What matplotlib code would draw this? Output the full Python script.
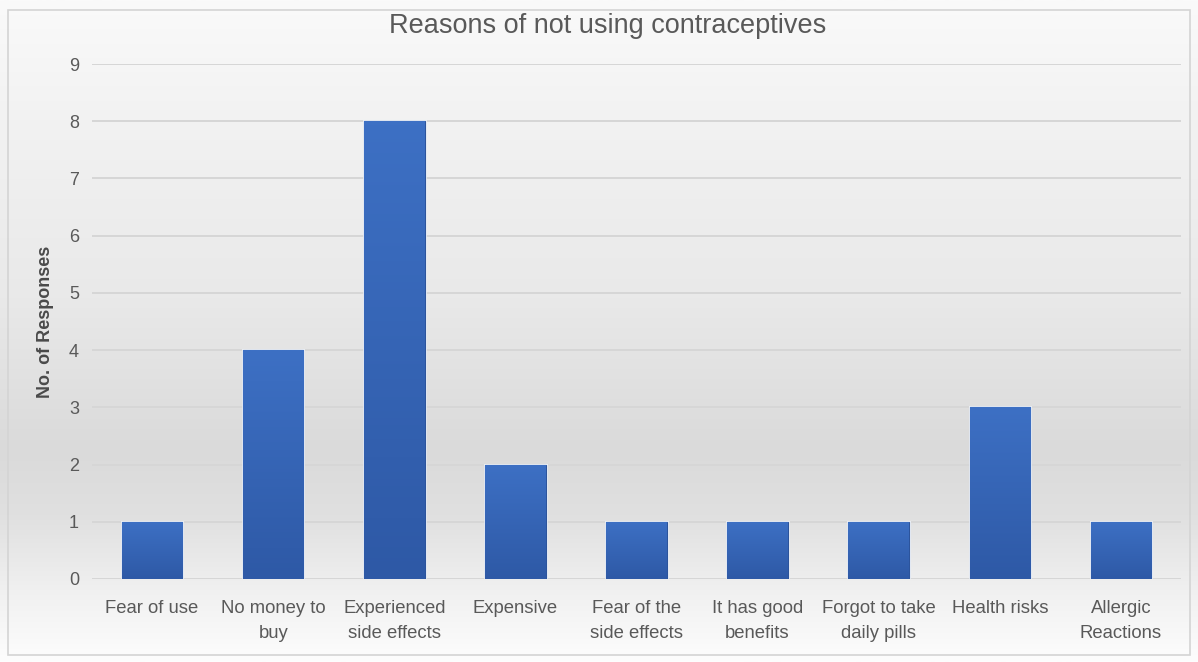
import numpy as np
import matplotlib
matplotlib.use("Agg")
import matplotlib.pyplot as plt
from matplotlib.colors import LinearSegmentedColormap
from matplotlib.patches import Rectangle

# Survey answers
reasons = [
    "Fear of use",
    "No money to\nbuy",
    "Experienced\nside effects",
    "Expensive",
    "Fear of the\nside effects",
    "It has good\nbenefits",
    "Forgot to take\ndaily pills",
    "Health risks",
    "Allergic\nReactions",
]
responses = [1, 4, 8, 2, 1, 1, 1, 3, 1]
y_ticks = list(range(0, 10))

plt.rcParams["font.family"] = ["Liberation Sans", "DejaVu Sans"]

fig = plt.figure(figsize=(11.98, 6.62), dpi=100)

# soft grey backdrop, darkest just above the category labels
bg = fig.add_axes([0, 0, 1, 1], zorder=-10)
bg_cmap = LinearSegmentedColormap.from_list(
    "bg",
    [(0.0, "#fafafa"), (0.15, "#f3f3f3"), (0.45, "#e9e9e9"),
     (0.68, "#dadada"), (0.78, "#e0e0e0"), (0.9, "#f1f1f1"), (1.0, "#fdfdfd")],
)
bg.imshow(np.linspace(0, 1, 256).reshape(-1, 1), cmap=bg_cmap, aspect="auto",
          extent=[0, 1, 0, 1], origin="upper")
bg.add_patch(Rectangle((8 / 1198, 7 / 662), 1182 / 1198, 645 / 662,
                       fill=False, edgecolor="#d4d4d4", lw=1.2,
                       transform=bg.transAxes))
bg.set_xlim(0, 1)
bg.set_ylim(0, 1)
bg.axis("off")

ax = fig.add_axes([0.0764, 0.1254, 0.9098, 0.7779])
ax.patch.set_alpha(0)

x = np.arange(len(reasons))
bars = ax.bar(x, responses, width=0.5, color="#3566b8",
              edgecolor="#2c549c", linewidth=0.8, zorder=3)

# vertical shading inside each bar
bar_cmap = LinearSegmentedColormap.from_list("bar", ["#2e59a6", "#3d70c4"])
grad = np.linspace(0, 1, 128).reshape(-1, 1)
for b in bars:
    bx, by = b.get_x(), b.get_y()
    w, h = b.get_width(), b.get_height()
    im = ax.imshow(grad, cmap=bar_cmap, aspect="auto", origin="lower",
                   extent=[bx, bx + w, by, by + h], zorder=3.5)
    im.set_clip_path(b)
    ax.add_patch(Rectangle((bx, by), w, h, fill=False, edgecolor="#eef3fb",
                           lw=2.2, zorder=2.9, alpha=0.8))

ax.set_xlim(-0.5, len(reasons) - 0.5)
ax.set_ylim(0, 9)
ax.set_yticks(y_ticks)
ax.set_xticks(x)
ax.set_xticklabels(reasons, fontsize=13.3, color="#595959", linespacing=1.6)
ax.tick_params(axis="y", labelsize=13, labelcolor="#595959", length=0, pad=9)
ax.tick_params(axis="x", length=0, pad=15)
ax.yaxis.grid(True, color="#d6d6d6", lw=1.4, zorder=0)
ax.set_axisbelow(True)
for s in ax.spines.values():
    s.set_visible(False)

ax.set_ylabel("No. of Responses", fontsize=13, fontweight="bold",
              color="#4a4a4a")
ax.yaxis.set_label_coords(-0.034, 0.5)
fig.text(0.507, 0.960, "Reasons of not using contraceptives",
         ha="center", va="center", fontsize=19.5, color="#595959")

fig.savefig("out.png", dpi=100)
